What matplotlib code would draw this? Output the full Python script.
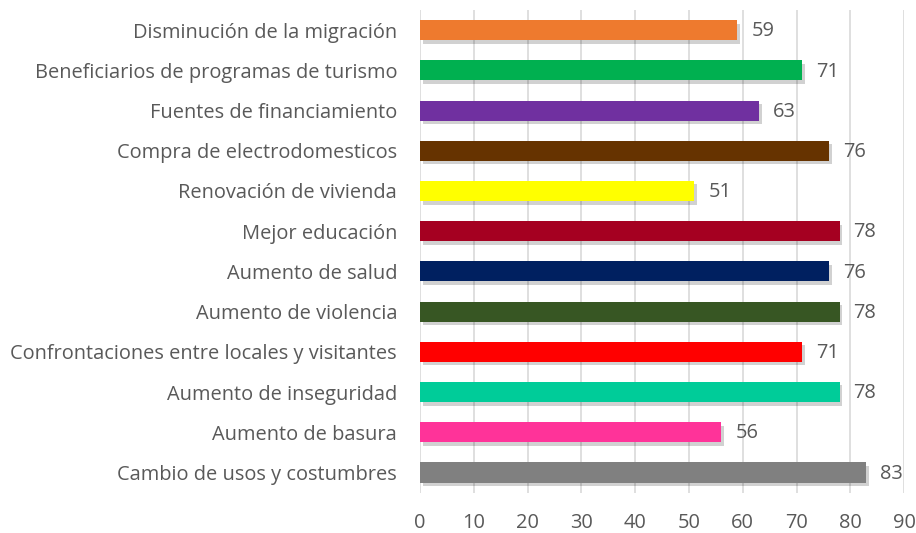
import matplotlib.pyplot as plt
import matplotlib.patheffects as pe

categories = [
    "Disminución de la migración",
    "Beneficiarios de programas de turismo",
    "Fuentes de financiamiento",
    "Compra de electrodomesticos",
    "Renovación de vivienda",
    "Mejor educación",
    "Aumento de salud",
    "Aumento de violencia",
    "Confrontaciones entre locales y visitantes",
    "Aumento de inseguridad",
    "Aumento de basura",
    "Cambio de usos y costumbres",
]
values = [59, 71, 63, 76, 51, 78, 76, 78, 71, 78, 56, 83]
colors = ["#EE7A2E", "#00B050", "#7030A0", "#663300", "#FFFF00", "#A50021",
          "#002060", "#375623", "#FF0000", "#00CC99", "#FF3399", "#808080"]

plt.rcParams['font.family'] = ['Open Sans', 'DejaVu Sans']
fig = plt.figure(figsize=(9.16, 5.33), dpi=100)
ax = fig.add_axes([0.4585, 0.0758, 0.5285, 0.9054])

n = len(categories)
ypos = list(range(n))[::-1]
bars = ax.barh(ypos, values, height=0.5, color=colors, zorder=3)
for b in bars:
    b.set_path_effects([pe.SimplePatchShadow(offset=(2, -2.5), shadow_rgbFace="#000000", alpha=0.18),
                        pe.Normal()])

for y, v in zip(ypos, values):
    ax.text(v + 2.6, y - 0.03, str(v), va="center", ha="left", fontsize=14.4, color="#595959")

ax.set_xlim(0, 90)
ax.set_ylim(-0.5, n - 0.5)
ax.set_xticks(range(0, 91, 10))
ax.set_yticks(ypos)
ax.set_yticklabels(categories)
ax.tick_params(axis="both", length=0, labelsize=14.4, colors="#595959")
ax.tick_params(axis="y", pad=16.5)
ax.tick_params(axis="x", pad=15)
ax.grid(axis="x", color="#D9D9D9", linewidth=1.2, zorder=0)
for s in ax.spines.values():
    s.set_visible(False)

fig.savefig("out.png", dpi=100)
